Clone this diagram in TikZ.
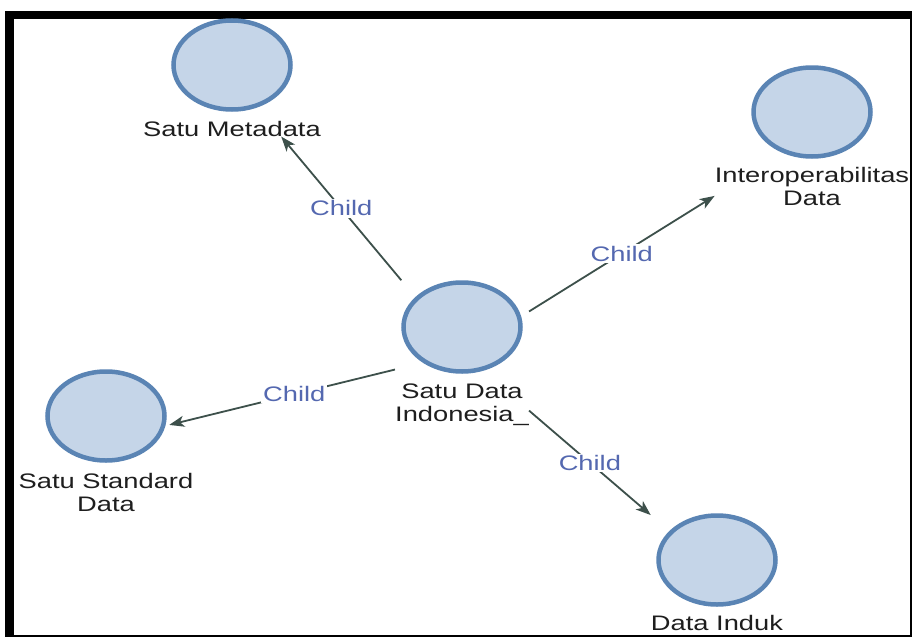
\documentclass[tikz,border=0pt]{standalone}
\usepackage{fontspec}
\setmainfont{Liberation Sans}
\usetikzlibrary{positioning,fit,shapes.geometric,arrows.meta}

\definecolor{ringblue}{HTML}{5A84B4}
\definecolor{ballfill}{HTML}{C5D5E8}
\definecolor{edgegray}{HTML}{3D504B}
\definecolor{childblue}{HTML}{5468B0}
\definecolor{txtgray}{HTML}{1E1E1E}

\begin{document}
\begin{tikzpicture}[x=1pt, y=-1pt,
  ball/.style={ellipse, draw=ringblue, fill=ballfill, line width=4.5pt,
               minimum width=117pt, minimum height=89pt, inner sep=0pt},
  lbl/.style={font=\fontsize{21}{23}\selectfont, align=center, xscale=1.3,
              inner sep=0pt, text=txtgray},
  box/.style={inner sep=0pt, outer sep=0pt, draw=none},
  child/.style={draw=edgegray, line width=1.8pt,
                -{Stealth[length=15pt, width=11pt, inset=4pt]}},
  edgelbl/.style={font=\fontsize{21}{23}\selectfont, text=childblue,
                  fill=white, xscale=1.3, inner sep=1.5pt}]

% page and frame
\fill[white] (0,0) rectangle (913,637);
\useasboundingbox (0,0) rectangle (913,637);
\fill[black] (5,11) rectangle (912,637);
\fill[white] (14,19) rectangle (910,635);

% concepts
\node[ball] (sdi)   at (462,327) {};
\node[ball] (meta)  at (232,65)  {};
\node[ball] (inter) at (812,112) {};
\node[ball] (std)   at (106,416) {};
\node[ball] (induk) at (717,560) {};

\node[lbl, below=10pt of sdi]   (sdilbl)   {Satu Data\\Indonesia\_};
\node[lbl, below=9pt of meta]   (metalbl)  {Satu Metadata};
\node[lbl, below=8pt of inter]  (interlbl) {Interoperabilitas\\Data};
\node[lbl, below=10pt of std]   (stdlbl)   {Satu Standard\\Data};
\node[lbl, below=8pt of induk]  (induklbl) {Data Induk};

\foreach \n in {sdi,meta,inter,std,induk}
   {
	\node[box, fit=(\n)(\n lbl)] (\n box) {};
   };

% links
\foreach \t/\ext in {metabox/0pt, interbox/0pt, stdbox/-25pt, indukbox/0pt}
   {
	\draw[child, shorten >=\ext] (sdibox) -- (\t) node[midway, edgelbl] {Child};
   };
\end{tikzpicture}
\end{document}
